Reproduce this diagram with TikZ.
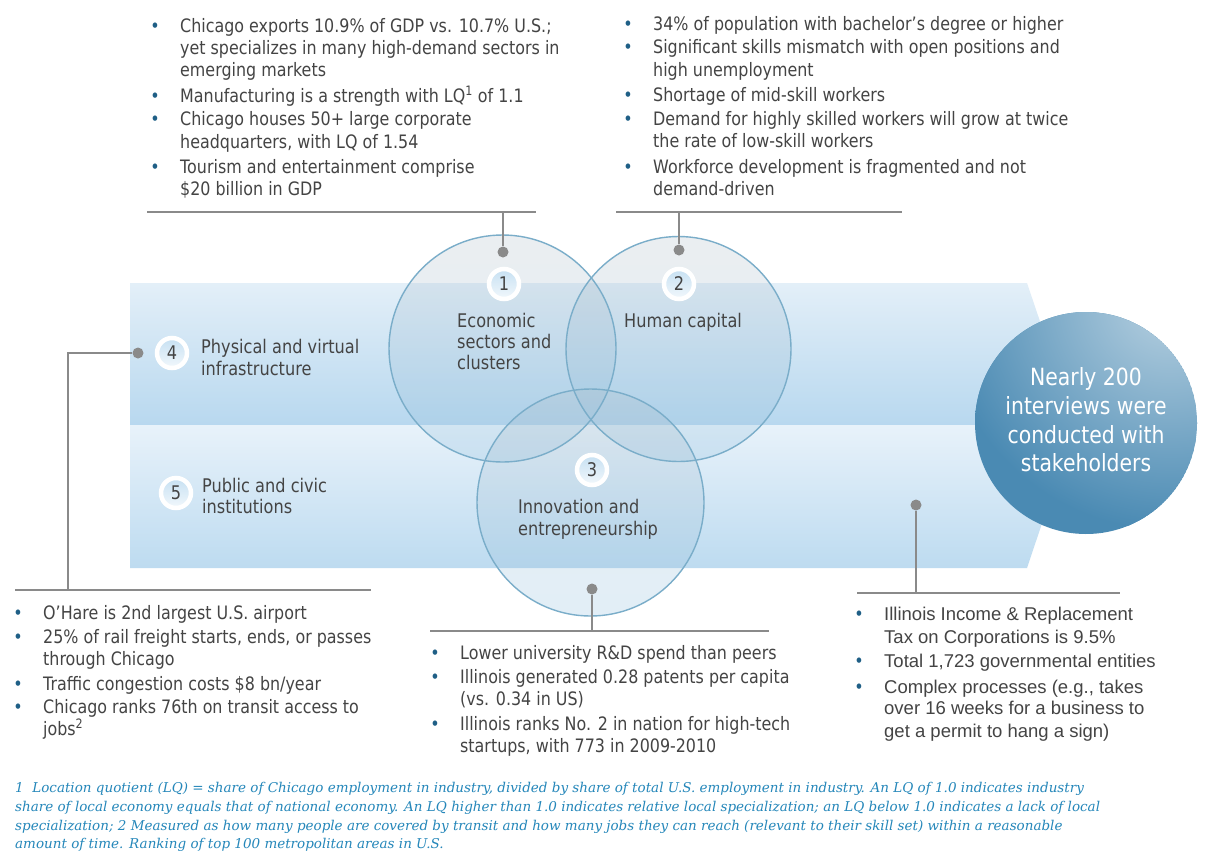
\documentclass[tikz,border=0pt]{standalone}
\usepackage{fontspec}
\setmainfont{DejaVu Sans}
\newfontfamily\tah[FakeStretch=0.86]{DejaVu Sans}
\newfontfamily\ari{Liberation Sans}
\newfontfamily\fnt{DejaVu Serif}
\definecolor{txtc}{HTML}{444444}
\definecolor{bulc}{HTML}{1F5F86}
\definecolor{connc}{HTML}{8A8A8A}
\definecolor{footc}{HTML}{2587BA}
\definecolor{vennc}{HTML}{7AADC9}
\definecolor{bigc}{HTML}{4A8AB3}
\definecolor{bigl}{HTML}{B8D1E1}
\definecolor{bandtop}{HTML}{E3EFF8}
\definecolor{bandbot}{HTML}{B8D8EF}
\definecolor{bandtopb}{HTML}{E8F2FA}
\definecolor{bandbotb}{HTML}{BDDBF0}
\definecolor{badgetop}{HTML}{C6E0F2}
\definecolor{badgebot}{HTML}{F2F8FC}
\definecolor{venntop}{HTML}{B0BEC8}
\definecolor{vennbot}{HTML}{8CBFE0}
\tikzset{
  body/.style={anchor=base west, inner sep=0pt, text=txtc, font=\tah\fontsize{18.5}{22}\selectfont},
  bodyA/.style={body, font=\ari\fontsize{18.5}{22}\selectfont},
  bul/.style={anchor=base, inner sep=0pt, text=bulc, font=\tah\fontsize{18.5}{22}\selectfont},
  lab/.style={anchor=base west, inner sep=0pt, text=txtc, font=\tah\fontsize{18.8}{22}\selectfont},
  big/.style={anchor=base, inner sep=0pt, text=white, font=\tah\fontsize{23.7}{28}\selectfont},
  foot/.style={anchor=base west, inner sep=0pt, text=footc, font=\fnt\itshape\fontsize{13.5}{18}\selectfont},
  badge/.style={circle, minimum size=30pt, inner sep=0pt, draw=white, line width=4.5pt,
     top color=badgetop, bottom color=badgebot, text=txtc, font=\tah\fontsize{18.8}{22}\selectfont},
  dot/.style={circle, fill=connc, minimum size=11pt, inner sep=0pt},
  conn/.style={draw=connc, line width=1.4pt},
  venn/.style={draw=vennc, line width=1.4pt},
}
\begin{document}
\begin{tikzpicture}[x=1pt,y=-1pt]
\useasboundingbox (0,0) rectangle (1225,865);
\fill[white] (0,0) rectangle (1225,865);

% band (arrow)
\shade[top color=bandtop, bottom color=bandbot] (130,283) -- (1027,283) -- (1075,425) -- (130,425) -- cycle;
\shade[top color=bandtopb, bottom color=bandbotb] (130,425) -- (1075,425) -- (1027,568) -- (130,568) -- cycle;

% Venn circles
\shade[top color=venntop, bottom color=vennbot, fill opacity=0.25] (502.5,348.5) circle[radius=113.5];
\shade[top color=venntop, bottom color=vennbot, fill opacity=0.25] (678.5,349) circle[radius=112.5];
\shade[top color=venntop, bottom color=vennbot, fill opacity=0.25] (590.5,502.5) circle[radius=113.5];
\draw[venn] (502.5,348.5) circle[radius=113.5];
\draw[venn] (678.5,349) circle[radius=112.5];
\draw[venn] (590.5,502.5) circle[radius=113.5];

% badges
\node[badge] (b1) at (504,284) {1};
\node[badge] (b2) at (679,284) {2};
\node[badge] (b3) at (592,470) {3};
\node[badge] (b4) at (172,353) {4};
\node[badge] (b5) at (176,493) {5};

% labels
\node[lab] (l1a) at (457,327) {Economic};
\node[lab] (l1b) at (457,348) {sectors and};
\node[lab] (l1c) at (457,369) {clusters};
\node[lab] (l2a) at (624,327) {Human capital};
\node[lab] (l3a) at (518,513) {Innovation and};
\node[lab] (l3b) at (518,535) {entrepreneurship};
\node[lab] (l4a) at (201,353) {Physical and virtual};
\node[lab] (l4b) at (201,375) {infrastructure};
\node[lab] (l5a) at (202,492) {Public and civic};
\node[lab] (l5b) at (202,513) {institutions};

% big circle
\begin{scope}
  \clip (1086,423) circle[radius=111];
  \fill[bigc] (1086,423) circle[radius=111];
  \shade[inner color=bigl, outer color=bigc] (1170,300) circle[radius=230];
\end{scope}
\node[big] (n1) at (1086,385) {Nearly 200};
\node[big] (n2) at (1086,414) {interviews were};
\node[big] (n3) at (1086,443) {conducted with};
\node[big] (n4) at (1086,471) {stakeholders};

% connectors
\coordinate (tlL) at (147,212); \coordinate (tlR) at (536,212); \coordinate (tlJ) at (503,212);
\node[dot] (d1) at (503,252) {};
\draw[conn] (tlL) -- (tlR);
\draw[conn] (tlJ) -- (d1);

\coordinate (trL) at (616,212); \coordinate (trR) at (902,212); \coordinate (trJ) at (679,212);
\node[dot] (d2) at (679,250) {};
\draw[conn] (trL) -- (trR);
\draw[conn] (trJ) -- (d2);

\node[dot] (d4) at (138,353) {};
\coordinate (c4) at (68,353); \coordinate (blJ) at (68,590);
\coordinate (blL) at (15,590); \coordinate (blR) at (371,590);
\draw[conn] (blL) -- (blR);
\draw[conn] (d4) -- (c4) -- (blJ);

\node[dot] (d3) at (592,589) {};
\coordinate (bmJ) at (592,631); \coordinate (bmL) at (430,631); \coordinate (bmR) at (769,631);
\draw[conn] (bmL) -- (bmR);
\draw[conn] (d3) -- (bmJ);

\node[dot] (d5) at (916,505) {};
\coordinate (brJ) at (916,593); \coordinate (brL) at (857,593); \coordinate (brR) at (1120,593);
\draw[conn] (brL) -- (brR);
\draw[conn] (d5) -- (brJ);

% top-left text
\node[bul] (tlb1) at (155,32) {•};
\node[body] (tl1) at (180,32) {Chicago exports 10.9\% of GDP vs. 10.7\% U.S.;};
\node[body] (tl2) at (180,54) {yet specializes in many high-demand sectors in};
\node[body] (tl3) at (180,76) {emerging markets};
\node[bul] (tlb2) at (155,102) {•};
\node[body] (tl4) at (180,102) {Manufacturing is a strength with LQ\textsuperscript{1} of 1.1};
\node[bul] (tlb3) at (155,125) {•};
\node[body] (tl5) at (180,125) {Chicago houses 50+ large corporate};
\node[body] (tl6) at (180,148) {headquarters, with LQ of 1.54};
\node[bul] (tlb4) at (155,173) {•};
\node[body] (tl7) at (180,173) {Tourism and entertainment comprise};
\node[body] (tl8) at (180,195) {\$20 billion in GDP};

% top-right text
\node[bul] (trb1) at (628,30) {•};
\node[body] (tr1) at (653,30) {34\% of population with bachelor’s degree or higher};
\node[bul] (trb2) at (628,53) {•};
\node[body] (tr2) at (653,53) {Significant skills mismatch with open positions and};
\node[body] (tr3) at (653,76) {high unemployment};
\node[bul] (trb3) at (628,101) {•};
\node[body] (tr4) at (653,101) {Shortage of mid-skill workers};
\node[bul] (trb4) at (628,125) {•};
\node[body] (tr5) at (653,125) {Demand for highly skilled workers will grow at twice};
\node[body] (tr6) at (653,147) {the rate of low-skill workers};
\node[bul] (trb5) at (628,173) {•};
\node[body] (tr7) at (653,173) {Workforce development is fragmented and not};
\node[body] (tr8) at (653,195) {demand-driven};

% bottom-left text
\node[bul] (blb1) at (18,619) {•};
\node[body] (bl1) at (43,619) {O’Hare is 2nd largest U.S. airport};
\node[bul] (blb2) at (18,643) {•};
\node[body] (bl2) at (43,643) {25\% of rail freight starts, ends, or passes};
\node[body] (bl3) at (43,665) {through Chicago};
\node[bul] (blb3) at (18,690) {•};
\node[body] (bl4) at (43,690) {Traffic congestion costs \$8 bn/year};
\node[bul] (blb4) at (18,713) {•};
\node[body] (bl5) at (43,713) {Chicago ranks 76th on transit access to};
\node[body] (bl6) at (43,735) {jobs\textsuperscript{2}};

% bottom-middle text
\node[bul] (bmb1) at (435,659) {•};
\node[body] (bm1) at (460,659) {Lower university R\&D spend than peers};
\node[bul] (bmb2) at (435,683) {•};
\node[body] (bm2) at (460,683) {Illinois generated 0.28 patents per capita};
\node[body] (bm3) at (460,705) {(vs. 0.34 in US)};
\node[bul] (bmb3) at (435,730) {•};
\node[body] (bm4) at (460,730) {Illinois ranks No. 2 in nation for high-tech};
\node[body] (bm5) at (460,752) {startups, with 773 in 2009-2010};

% bottom-right text
\node[bul] (brb1) at (859,620) {•};
\node[bodyA] (br1) at (884,620) {Illinois Income \& Replacement};
\node[bodyA] (br2) at (884,643) {Tax on Corporations is 9.5\%};
\node[bul] (brb2) at (859,667) {•};
\node[bodyA] (br3) at (884,667) {Total 1,723 governmental entities};
\node[bul] (brb3) at (859,693) {•};
\node[bodyA] (br4) at (884,693) {Complex processes (e.g., takes};
\node[bodyA] (br5) at (884,714) {over 16 weeks for a business to};
\node[bodyA] (br6) at (884,737) {get a permit to hang a sign)};

% footnote
\node[foot] (f1) at (15,792) {1\ \ Location quotient (LQ) = share of Chicago employment in industry, divided by share of total U.S. employment in industry. An LQ of 1.0 indicates industry};
\node[foot] (f2) at (15,811) {share of local economy equals that of national economy. An LQ higher than 1.0 indicates relative local specialization; an LQ below 1.0 indicates a lack of local};
\node[foot] (f3) at (15,830) {specialization; 2 Measured as how many people are covered by transit and how many jobs they can reach (relevant to their skill set) within a reasonable};
\node[foot] (f4) at (15,848) {amount of time. Ranking of top 100 metropolitan areas in U.S.};
\end{tikzpicture}
\end{document}
